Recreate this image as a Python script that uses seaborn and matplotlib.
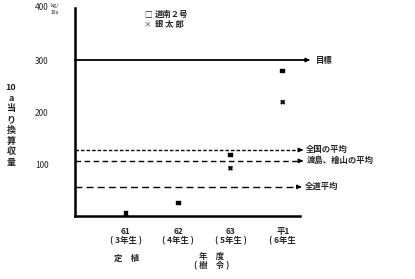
import numpy as np
import pandas as pd
import matplotlib
matplotlib.use("Agg")
import matplotlib.pyplot as plt
import seaborn as sns

# ---- data ----
years = ["61", "62", "63", "平1"]
ages = ["( 3年生 )", "( 4年生 )", "( 5年生 )", "( 6年生"]
donan2 = [5, 25, 117, 279]          # 道南2号
gintaro = [np.nan, np.nan, 92, 219]  # 銀太郎
ref_names = ["目標", "全国の平均", "渡島、檜山の平均", "全道平均"]
ref_values = [300, 127, 106, 56]
yticks = [100, 200, 300]

sns.set_theme(style="white")
plt.rcParams['font.family'] = ['Noto Sans CJK JP', 'DejaVu Sans']

df = pd.DataFrame({
    "x": list(range(len(years))) * 2,
    "y": donan2 + gintaro,
    "品種": ["道南2号"] * len(years) + ["銀太郎"] * len(years),
}).dropna()

fig = plt.figure(figsize=(4.15, 2.79), dpi=100)
ax = fig.add_axes([75/415, 63/279, 225/415, 208/279])

sns.scatterplot(data=df, x="x", y="y", style="品種",
                markers={"道南2号": "s", "銀太郎": "X"},
                color="black", s=11, edgecolor="black", legend=False, ax=ax)

ax.set_xlim(-0.975, 3.33)
ax.set_ylim(0, 400)
for s in ["top", "right"]:
    ax.spines[s].set_visible(False)
for s in ["left", "bottom"]:
    ax.spines[s].set_color("black")
    ax.spines[s].set_linewidth(1.8)

ax.set_xticks(range(len(years)))
ax.set_xticklabels([f"{y}\n{a}" for y, a in zip(years, ages)],
                   fontsize=6, fontweight="bold", linespacing=1.0)
ax.set_yticks(yticks)
ax.set_yticklabels([str(v) for v in yticks], fontsize=6)
ax.tick_params(axis="x", length=0, pad=8)
ax.tick_params(axis="y", length=0, pad=19)
ax.set_xlabel("")
ax.set_ylabel("")

styles = ["-", (0, (2.5, 1.5)), (0, (4, 2.5)), (0, (5, 3))]
widths = [1.3, 1.0, 1.0, 1.0]
text_x = [3.64, 3.45, 3.45, 3.43]
end_x = [3.52, 3.39, 3.39, 3.36]
for name, v, ls, lw, tx, ex in zip(ref_names, ref_values, styles, widths, text_x, end_x):
    ax.plot([-0.975, ex - 0.08], [v, v], color="black", ls=ls, lw=lw, clip_on=False)
    ax.annotate("", xy=(ex, v), xytext=(ex - 0.1, v),
                arrowprops=dict(arrowstyle="-|>", color="black", lw=1.0,
                                mutation_scale=6), annotation_clip=False)
    ax.text(tx, v, name, fontsize=6, fontweight="bold", va="center", ha="left",
            clip_on=False)

# y-axis top label 400kg/10a
fig.text(35/415, 1 - 8/279, "400", fontsize=6, ha="left", va="center")
fig.text(50/415, 1 - 6/279, "kg/", fontsize=4, ha="left", va="center")
fig.text(51/415, 1 - 13/279, "10a", fontsize=3.5, ha="left", va="center")

# vertical y label
fig.text(11/415, 1 - 125/279, "10\na\n当\nり\n換\n算\n収\n量", fontsize=6.5,
         fontweight="bold", ha="center", va="center", linespacing=1.25)

# legend
fig.text(144/415, 1 - 14/279, "□", fontsize=5.5, ha="left", va="center")
fig.text(155/415, 1 - 14/279, "道南２号", fontsize=6, fontweight="bold", ha="left", va="center")
fig.text(144/415, 1 - 24/279, "×", fontsize=5.5, ha="left", va="center")
fig.text(155/415, 1 - 24/279, "銀 太 郎", fontsize=6, fontweight="bold", ha="left", va="center")

# x-axis labels
fig.text(127/415, 1 - 258/279, "定　植", fontsize=6, fontweight="bold", ha="center", va="center")
fig.text(212/415, 1 - 256/279, "年　度", fontsize=6, fontweight="bold", ha="center", va="center")
fig.text(212/415, 1 - 266/279, "( 樹　令 )", fontsize=6, fontweight="bold", ha="center", va="center")

fig.savefig("out.png", dpi=100)
